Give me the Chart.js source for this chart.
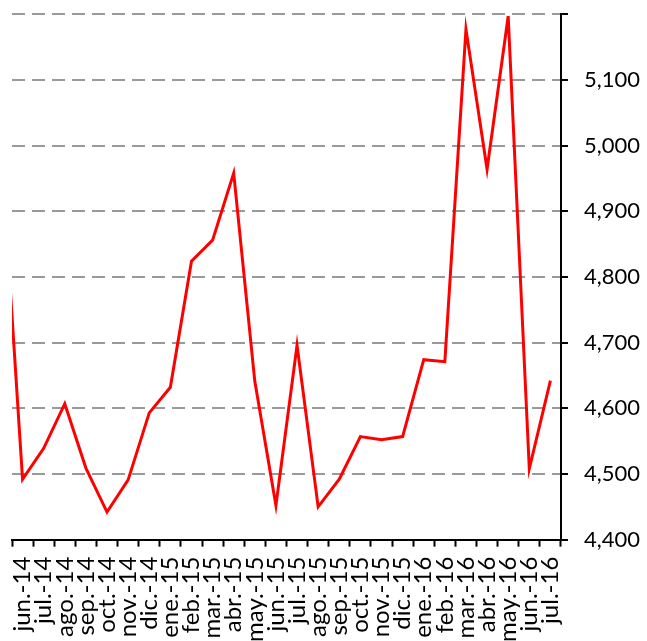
<!DOCTYPE html>
<html>
<head>
<meta charset="utf-8">
<script src="https://cdn.jsdelivr.net/npm/chart.js@4/dist/chart.umd.min.js"></script>
<style>
  html, body { margin: 0; padding: 0; background: #fff; overflow: hidden; }
  #wrap { width: 647px; height: 641px; overflow: hidden; position: relative; }
  #box { width: 647px; height: 667px; position: absolute; left: 0; top: -15px; }
</style>
</head>
<body>
<div id="wrap"><div id="box"><canvas id="chart"></canvas></div></div>
<script>
// months (may.-14 sits just outside the visible range, the line runs in from the left edge)
const months = ['may.-14', 'jun.-14', 'jul.-14', 'ago.-14', 'sep.-14', 'oct.-14', 'nov.-14', 'dic.-14',
  'ene.-15', 'feb.-15', 'mar.-15', 'abr.-15', 'may.-15', 'jun.-15', 'jul.-15', 'ago.-15',
  'sep.-15', 'oct.-15', 'nov.-15', 'dic.-15', 'ene.-16', 'feb.-16', 'mar.-16', 'abr.-16',
  'may.-16', 'jun.-16', 'jul.-16'];
const values = [4990, 4492, 4539, 4607, 4509, 4442, 4491, 4593,
  4632, 4824, 4856, 4958, 4641, 4452, 4696, 4450,
  4492, 4557, 4552, 4557, 4674, 4671, 5177, 4964,
  5197, 4508, 4642];
const yMin = 4400, yMax = 5200, yStep = 100;

const ctx = document.getElementById('chart').getContext('2d');

const chart = new Chart(ctx, {
  type: 'line',
  data: {
    labels: months,
    datasets: [{
      data: values,
      borderColor: '#ff0000',
      borderWidth: 3,
      pointRadius: 0,
      tension: 0,
      fill: false
    }]
  },
  options: {
    responsive: true,
    maintainAspectRatio: false,
    animation: false,
    layout: { padding: { top: 0, right: -9, left: 12, bottom: 0 } },
    plugins: { legend: { display: false }, tooltip: { enabled: false } },
    scales: {
      x: {
        type: 'category',
        min: 'jun.-14',
        offset: true,
        grid: {
          offset: true,
          drawOnChartArea: false,
          drawTicks: true,
          tickLength: 7,
          tickColor: '#000',
          tickWidth: 2
        },
        border: { display: true, color: '#000', width: 2 },
        ticks: {
          color: '#000',
          font: { family: 'Lato', size: 24 },
          minRotation: 90,
          maxRotation: 90,
          autoSkip: false,
          padding: 10
        }
      },
      y: {
        position: 'right',
        min: yMin,
        max: yMax,
        grid: {
          color: c => (c.tick && c.tick.value === yMin) ? 'rgba(0,0,0,0)' : '#999999',
          lineWidth: 2,
          tickLength: 7,
          tickColor: '#000',
          tickWidth: 2
        },
        border: { display: true, color: '#000', width: 2, dash: [13, 7] },
        ticks: {
          stepSize: yStep,
          color: '#000',
          font: { family: 'Lato', size: 22 },
          padding: 16,
          callback: v => v === yMax ? '' : v.toLocaleString('en-US')
        }
      }
    }
  }
});
</script>
</body>
</html>
